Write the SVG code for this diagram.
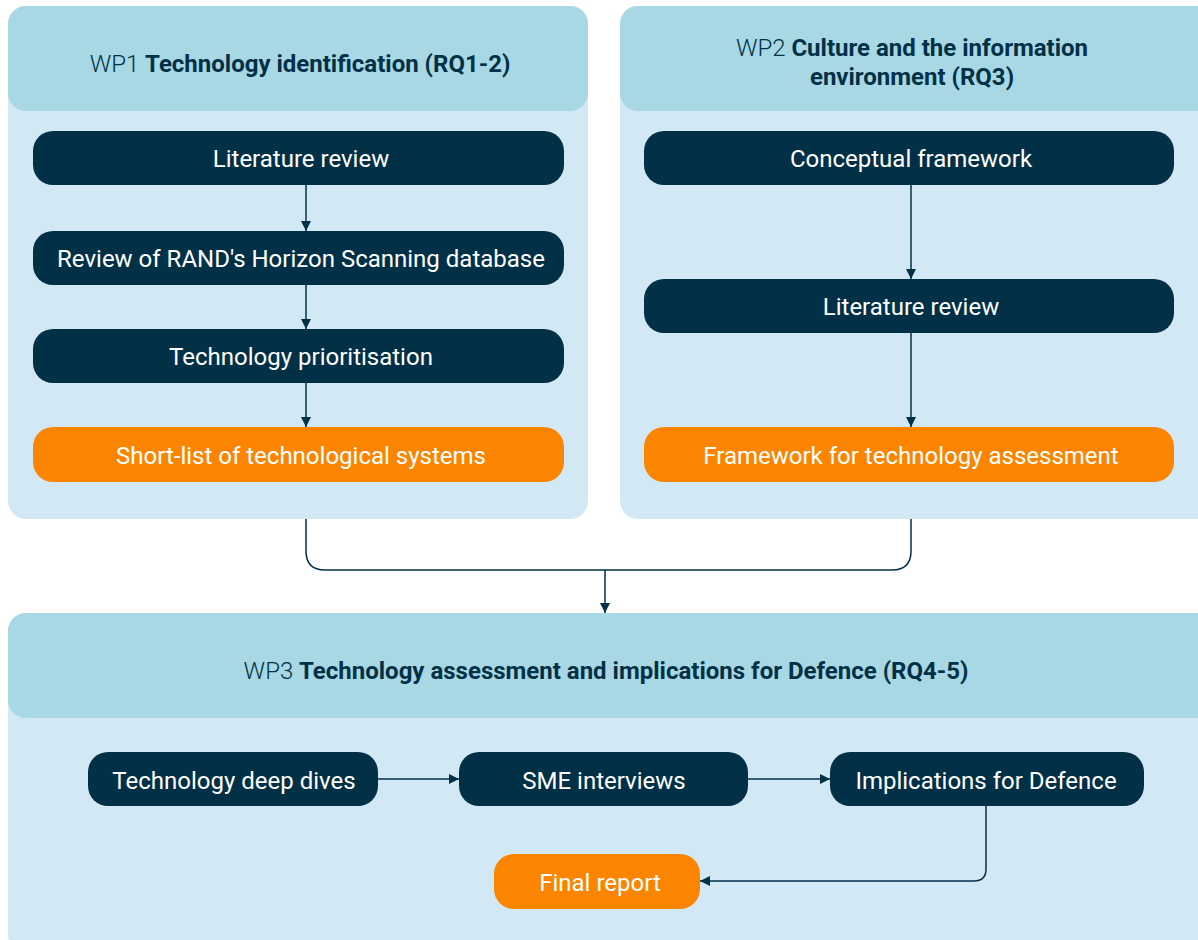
<svg xmlns="http://www.w3.org/2000/svg" width="1198" height="940" viewBox="0 0 1198 940">
<style>
.body{fill:#d2e9f5}
.head{fill:#a7d8e3}
.node{fill:#023047}
.out{fill:#fb8500}
.nt{font-family:Roboto,"Liberation Sans",sans-serif;font-size:24px;fill:#ffffff;text-anchor:middle}
.ht{font-family:Roboto,"Liberation Sans",sans-serif;font-size:24px;fill:#023047;text-anchor:middle;font-weight:300}
.ht tspan.b{font-weight:700}
.con{fill:none;stroke:#023047;stroke-width:1.5}
</style>
<defs>
<marker id="ah" viewBox="0 0 10 10" refX="10" refY="5" markerWidth="10" markerHeight="10" markerUnits="userSpaceOnUse" orient="auto">
<path d="M0,0 L10,5 L0,10 z" fill="#023047"/>
</marker>
</defs>
<g id="wp1">
<rect class="body" x="8" y="6" width="580" height="513" rx="18"/>
<rect class="head" x="8" y="6" width="580" height="105" rx="18"/>
<text class="ht" x="300" y="72">WP1 <tspan class="b">Technology identification (RQ1-2)</tspan></text>
</g>
<g id="wp2">
<rect class="body" x="620" y="6" width="600" height="513" rx="18"/>
<rect class="head" x="620" y="6" width="600" height="105" rx="18"/>
<text class="ht" x="912" y="56">WP2 <tspan class="b">Culture and the information</tspan></text>
<text class="ht" x="912" y="85"><tspan class="b">environment (RQ3)</tspan></text>
</g>
<g id="wp3">
<rect class="body" x="8" y="613" width="1210" height="340" rx="18"/>
<rect class="head" x="8" y="613" width="1210" height="105" rx="18"/>
<text class="ht" x="606" y="679">WP3 <tspan class="b">Technology assessment and implications for Defence (RQ4-5)</tspan></text>
</g>
<g id="n1"><rect class="node" x="33" y="131" width="531" height="54" rx="20"/><text class="nt" x="301" y="167">Literature review</text></g>
<g id="n2"><rect class="node" x="33" y="231" width="531" height="54" rx="20"/><text class="nt" x="301" y="267">Review of RAND's Horizon Scanning database</text></g>
<g id="n3"><rect class="node" x="33" y="329" width="531" height="54" rx="20"/><text class="nt" x="301" y="365">Technology prioritisation</text></g>
<g id="n4"><rect class="out" x="33" y="427" width="531" height="55" rx="20"/><text class="nt" x="301" y="464">Short-list of technological systems</text></g>
<g id="n5"><rect class="node" x="644" y="131" width="530" height="54" rx="20"/><text class="nt" x="911" y="167">Conceptual framework</text></g>
<g id="n6"><rect class="node" x="644" y="279" width="530" height="54" rx="20"/><text class="nt" x="911" y="315">Literature review</text></g>
<g id="n7"><rect class="out" x="644" y="427" width="530" height="55" rx="20"/><text class="nt" x="911" y="464">Framework for technology assessment</text></g>
<g id="n8"><rect class="node" x="88" y="752" width="290" height="54" rx="20"/><text class="nt" x="234" y="789">Technology deep dives</text></g>
<g id="n9"><rect class="node" x="459" y="752" width="289" height="54" rx="20"/><text class="nt" x="604" y="789">SME interviews</text></g>
<g id="n10"><rect class="node" x="830" y="752" width="314" height="54" rx="20"/><text class="nt" x="986" y="789">Implications for Defence</text></g>
<g id="n11"><rect class="out" x="494" y="854" width="206" height="55" rx="20"/><text class="nt" x="600" y="891">Final report</text></g>
<g id="connectors">
<path class="con" d="M306,185 V231" marker-end="url(#ah)"/>
<path class="con" d="M306,285 V329" marker-end="url(#ah)"/>
<path class="con" d="M306,383 V427" marker-end="url(#ah)"/>
<path class="con" d="M911,185 V279" marker-end="url(#ah)"/>
<path class="con" d="M911,333 V427" marker-end="url(#ah)"/>
<path class="con" d="M306,519 V551 Q306,570 325,570 H892 Q911,570 911,551 V519"/>
<path class="con" d="M605,570 V613" marker-end="url(#ah)"/>
<path class="con" d="M378,779 H459" marker-end="url(#ah)"/>
<path class="con" d="M748,779 H830" marker-end="url(#ah)"/>
<path class="con" d="M986,806 V869 Q986,881 974,881 H700" marker-end="url(#ah)"/>
</g>
</svg>
